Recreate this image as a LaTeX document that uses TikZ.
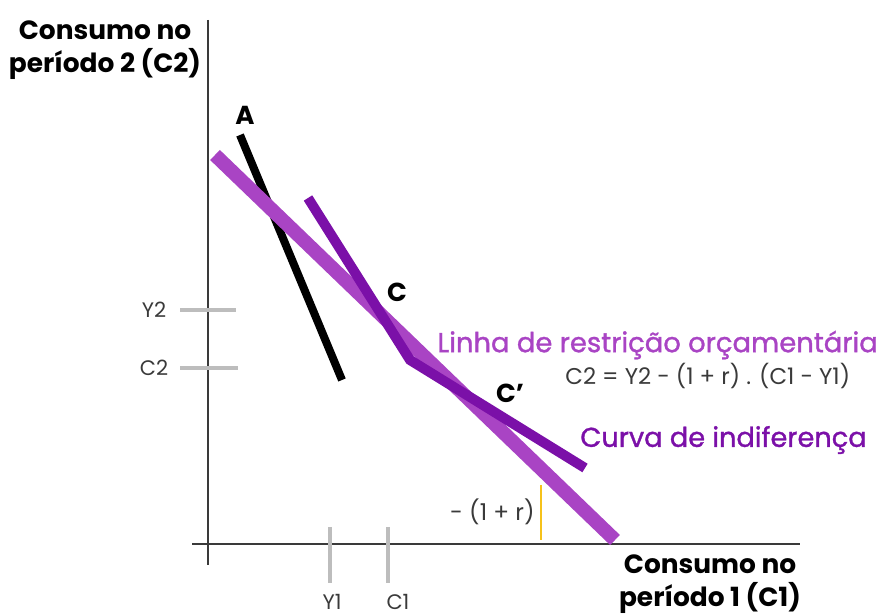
\documentclass[tikz,border=0pt]{standalone}
\usepackage{fontspec}
\setmainfont{Poppins}
\newfontfamily\medfont{Poppins}[FakeBold=1.2]
\usepackage{tikz}
\usetikzlibrary{positioning}
\usepackage{xcolor}
\definecolor{lila}{HTML}{A944C4}
\definecolor{roxo}{HTML}{7B10A8}
\definecolor{ouro}{HTML}{F6C21A}
\definecolor{risco}{HTML}{BDBDBD}
\definecolor{cinza}{HTML}{3A3A3A}

\begin{document}
\begin{tikzpicture}[x=0.5pt,y=-0.5pt,line cap=butt,
  eixo/.style={cinza,line width=0.8pt},
  marca/.style={risco,line width=1.6pt},
  titulo/.style={font=\bfseries\fontsize{13.2}{16.5}\selectfont,align=center,inner sep=0pt},
  rotulo/.style={font=\fontsize{10.5}{12}\selectfont,text=cinza,inner sep=0pt},
  ponto/.style={font=\bfseries\fontsize{13}{15}\selectfont,inner sep=0pt}]
\useasboundingbox (0,0) rectangle (880,614);
% eixos
\coordinate (ytopo) at (208,20);
\coordinate (ybase) at (208,565);
\coordinate (xesq) at (192,544);
\coordinate (xdir) at (800,544);
\draw[eixo] (ytopo) -- (ybase);
\draw[eixo] (xesq) -- (xdir);
\node[titulo] (tituloC2) at (105,50) {Consumo no\\período 2 (C2)};
\node[titulo] (tituloC1) at (710,584) {Consumo no\\período 1 (C1)};
% marcas nos eixos
\coordinate (y2a) at (180,310); \coordinate (y2b) at (236,310);
\coordinate (c2a) at (180,368); \coordinate (c2b) at (238,368);
\coordinate (y1a) at (330,527); \coordinate (y1b) at (330,583);
\coordinate (c1a) at (388,527); \coordinate (c1b) at (388,583);
\draw[marca] (y2a) -- (y2b);
\draw[marca] (c2a) -- (c2b);
\draw[marca] (y1a) -- (y1b);
\draw[marca] (c1a) -- (c1b);
\node[rotulo] (Y2) at (154,310) {Y2};
\node[rotulo] (C2) at (154,368) {C2};
\node[rotulo] (Y1) at (332,602) {Y1};
\node[rotulo] (C1) at (398,602) {C1};
% curvas
\coordinate (a1) at (240,135); \coordinate (a2) at (342,380);
\coordinate (b1) at (215,155); \coordinate (b2) at (615,540);
\coordinate (i1) at (308,198); \coordinate (i2) at (410,360); \coordinate (i3) at (585,468);
\coordinate (g1) at (541,485); \coordinate (g2) at (541,540);
\draw[black,line width=4pt] (a1) -- (a2);
\draw[lila,line width=7pt] (b1) -- (b2);
\draw[roxo,line width=5pt] (i1) -- (i2) -- (i3);
\draw[ouro,line width=1.2pt] (g1) -- (g2);
% textos
\node[ponto] (A) at (245,115) {A};
\node[ponto] (C) at (397,292) {C};
\node[ponto] (Cl) at (510,393) {C’};
\node[font=\medfont\fontsize{13.7}{16}\selectfont,text=lila,anchor=west,inner sep=0pt] (linha) at (437,345) {Linha de restrição orçamentária};
\node[rotulo,font=\fontsize{11.4}{13}\selectfont,anchor=west] (formula) at (565,376) {C2 = Y2 - (1 + r) . (C1 - Y1)};
\node[font=\medfont\fontsize{13.6}{16}\selectfont,text=roxo,anchor=west,inner sep=0pt] (curva) at (580,440) {Curva de indiferença};
\node[rotulo,font=\fontsize{11.6}{13}\selectfont,anchor=east] (inclina) at (535,512) {- (1 + r)};
\end{tikzpicture}
\end{document}
